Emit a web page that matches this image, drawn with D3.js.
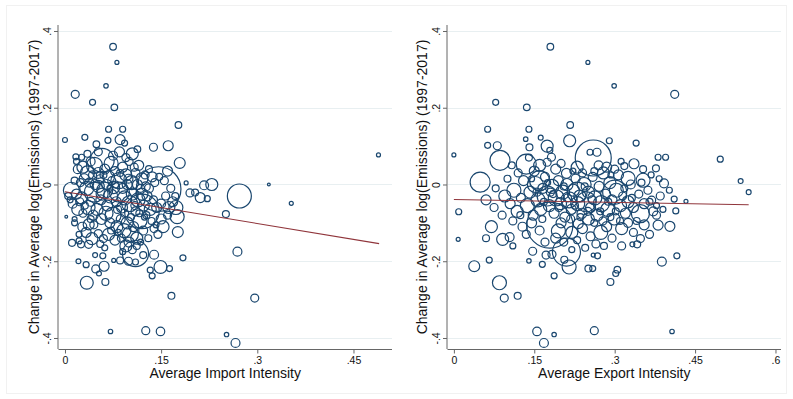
<!DOCTYPE html>
<html>
<head>
<meta charset="utf-8">
<script src="https://cdn.jsdelivr.net/npm/d3@7"></script>
<style>
  html, body { margin: 0; padding: 0; background: #fff; }
  svg { display: block; font-family: "Liberation Sans", Arial, Helvetica, sans-serif; }
</style>
</head>
<body>
<svg id="chart" width="793" height="399"></svg>
<script>
// ---------- DATA ----------
// [average import intensity, change in avg log(emissions), weight]
const importPoints = [
[0.075,0.359,11],[0.081,0.318,4],[0.016,0.235,16],[0.043,0.214,9],[0.064,0.257,5],[0.077,0.201,11],[0.177,0.155,11],[0.068,0.144,9],[0.090,0.144,9],[0.000,0.116,6],[0.031,0.123,9],[0.067,0.115,9],[0.086,0.117,25],[0.093,0.108,9],[0.113,0.092,11],[0.138,0.097,16],[0.161,0.101,25],[0.179,0.056,30],[0.489,0.077,4],[0.318,0.000,2],[0.272,-0.030,144],[0.229,0.000,36],[0.217,-0.002,20],[0.189,0.004,4],[0.049,0.105,11],[0.017,0.072,9],[0.026,0.071,9],[0.146,-0.012,500],[0.195,-0.022,16],[0.203,-0.021,12],[0.211,-0.034,25],[0.222,-0.037,9],[0.353,-0.049,4],
[0.251,-0.077,12],[0.269,-0.175,20],[0.296,-0.296,16],[0.166,-0.290,12],[0.184,-0.191,9],[0.149,-0.215,42],[0.163,-0.219,9],[0.139,-0.183,20],[0.133,-0.223,9],[0.136,-0.238,9],[0.126,-0.381,16],[0.149,-0.383,18],[0.071,-0.383,5],[0.252,-0.391,5],[0.266,-0.413,20],[0.034,-0.256,42],[0.063,-0.254,12],[0.053,-0.232,6],[0.048,-0.220,16],[0.061,-0.213,25],[0.033,-0.209,9],[0.021,-0.200,6],[0.047,-0.184,6],[0.059,-0.186,9],[0.076,-0.198,4],[0.086,-0.198,12],[0.099,-0.200,16],[0.110,-0.202,9],[0.110,-0.180,170],[0.122,-0.184,12],[0.176,-0.124,30],[0.175,-0.084,49],[0.153,-0.110,36],[0.139,-0.115,16],[0.127,-0.080,12],[0.002,-0.084,2],[0.015,-0.090,6],[0.011,-0.152,12],[0.025,-0.156,12],[0.037,-0.156,16],[0.022,-0.147,9],[0.037,-0.104,30],[0.052,-0.128,16],[0.060,-0.141,16],[0.042,-0.141,36],
[0.020,0.040,20],[0.028,0.045,36],[0.035,0.030,49],[0.030,0.015,25],[0.024,0.005,16],[0.040,0.060,20],[0.046,0.050,64],[0.052,0.030,30],[0.058,0.063,144],[0.062,0.040,25],[0.068,0.020,36],[0.072,0.055,49],[0.078,0.035,20],[0.084,0.010,64],[0.090,0.045,25],[0.095,0.025,36],[0.100,0.060,16],[0.104,0.005,49],[0.110,0.030,20],[0.115,0.050,25],[0.120,0.015,36],[0.126,-0.005,20],[0.131,0.040,12],[0.136,0.020,25],[0.010,-0.015,64],[0.018,-0.025,25],[0.026,-0.035,36],[0.034,-0.010,49],[0.040,-0.045,20],[0.046,-0.020,100],[0.052,-0.005,36],[0.056,-0.040,25],[0.062,-0.015,64],[0.066,-0.055,30],[0.071,-0.030,49],[0.076,-0.008,36],[0.080,-0.045,25],[0.085,-0.020,100],[0.089,-0.060,30],[0.093,-0.035,49],[0.097,0.000,25],[0.101,-0.050,64],[0.105,-0.025,36],[0.110,-0.070,20],[0.114,-0.040,49],[0.118,-0.010,16],[0.123,-0.055,30],[0.128,-0.030,25],[0.133,-0.065,36],[0.138,-0.040,16],[0.143,-0.060,25],[0.150,-0.050,20],[0.157,-0.030,16],[0.162,-0.060,36],[0.168,-0.045,25],[0.173,-0.060,49],[0.172,-0.030,12],[0.012,-0.050,20],[0.020,-0.065,36],[0.028,-0.075,16],[0.036,-0.060,49],[0.044,-0.080,25],[0.050,-0.065,36],[0.057,-0.090,30],[0.064,-0.075,49],[0.070,-0.100,25],[0.075,-0.080,64],[0.081,-0.110,36],[0.087,-0.090,20],[0.092,-0.120,49],[0.097,-0.100,36],[0.102,-0.130,64],[0.107,-0.110,25],[0.112,-0.140,36],[0.117,-0.095,49],[0.122,-0.120,20],[0.027,-0.110,20],[0.033,-0.125,25],[0.045,-0.105,16],[0.068,-0.130,36],[0.078,-0.145,25],[0.088,-0.140,16],[0.095,-0.160,36],[0.100,-0.150,25],[0.130,-0.140,12],[0.145,-0.130,16],[0.150,-0.090,25],[0.160,-0.080,16],[0.055,0.015,16],[0.065,0.000,25],[0.075,0.075,20],[0.085,0.085,25],[0.095,0.070,16],[0.105,0.080,36],[0.052,0.085,16],[0.035,0.080,12],[0.018,0.060,9],[0.043,0.025,16],[0.047,0.000,25],[0.058,-0.025,36],[0.073,0.010,16],[0.082,-0.065,16],[0.090,-0.010,25],[0.099,0.015,20],[0.108,0.045,16],[0.113,0.000,25],[0.120,-0.025,36],[0.125,0.025,16],[0.131,-0.010,20],[0.140,0.005,16],[0.147,0.020,12],[0.155,0.010,16],[0.160,0.035,25],[0.165,-0.010,16],[0.005,-0.030,12],[0.008,-0.040,9],[0.015,0.010,12],[0.023,-0.045,16],[0.031,-0.055,12],[0.038,0.005,20],[0.060,0.025,12],[0.070,-0.010,9],[0.079,0.000,12],[0.086,0.030,12],[0.093,-0.075,16],[0.103,-0.085,12],[0.109,-0.055,16],[0.116,-0.075,12],[0.124,-0.085,9],[0.135,-0.095,12],[0.142,-0.105,9],[0.022,-0.130,9],[0.055,-0.155,12],[0.062,-0.165,9],[0.072,-0.120,12],[0.083,-0.125,9],[0.105,-0.170,16],[0.112,-0.160,12],[0.118,-0.150,9],[0.015,-0.100,9],[0.040,-0.090,12],[0.090,-0.175,9],[0.120,-0.070,300]
];

// [average export intensity, change in avg log(emissions), weight]
const exportPoints = [
[0.180,0.359,11],[0.250,0.318,4],[0.299,0.257,5],[0.412,0.235,16],[0.078,0.214,9],[0.136,0.201,11],[0.217,0.155,11],[0.063,0.144,9],[0.140,0.144,9],[0.000,0.077,4],[0.497,0.066,9],[0.535,0.009,6],[0.550,-0.020,6],[0.049,0.006,100],[0.063,0.102,9],[0.081,0.101,16],[0.086,0.063,100],[0.134,0.118,5],[0.141,0.097,12],[0.162,0.122,6],[0.174,0.100,36],[0.179,0.089,9],[0.182,0.071,16],[0.174,0.058,16],[0.216,0.114,36],[0.260,0.069,324],[0.254,0.084,9],[0.267,0.084,16],[0.290,0.114,9],[0.340,0.108,9],[0.381,0.071,9],[0.395,0.071,9],[0.377,0.042,12],[0.336,0.054,25],[0.318,0.048,12],[0.325,0.016,49],[0.353,0.011,49],[0.392,0.003,20],[0.402,-0.015,9],[0.411,-0.038,9],[0.433,-0.044,4],[0.135,0.053,100],[0.210,0.029,25],[0.108,0.050,12],
[0.009,-0.071,9],[0.008,-0.143,4],[0.038,-0.213,30],[0.066,-0.197,9],[0.085,-0.256,49],[0.094,-0.296,16],[0.119,-0.290,12],[0.140,-0.199,5],[0.147,-0.174,16],[0.165,-0.208,9],[0.172,-0.184,16],[0.183,-0.182,16],[0.187,-0.238,9],[0.206,-0.196,12],[0.215,-0.215,49],[0.210,-0.176,196],[0.251,-0.219,12],[0.259,-0.219,9],[0.260,-0.184,4],[0.268,-0.186,9],[0.305,-0.222,11],[0.302,-0.232,9],[0.292,-0.254,12],[0.388,-0.201,20],[0.416,-0.186,9],[0.155,-0.383,18],[0.168,-0.413,20],[0.187,-0.391,5],[0.262,-0.381,16],[0.407,-0.383,5],[0.313,-0.160,16],[0.333,-0.156,6],[0.342,-0.156,12],[0.348,-0.141,16],[0.070,-0.110,36],[0.091,-0.143,36],[0.104,-0.137,20],[0.124,-0.080,12],[0.179,-0.106,530],[0.195,-0.121,49],[0.232,-0.102,25],[0.251,-0.090,36],[0.274,-0.125,49],[0.313,-0.115,36],[0.348,-0.076,81],[0.378,-0.080,16],[0.381,-0.106,25],[0.403,-0.109,25],[0.414,-0.069,9],[0.369,-0.041,16],[0.341,-0.095,12],
[0.060,-0.040,25],[0.075,-0.060,16],[0.095,-0.030,36],[0.105,-0.050,25],[0.112,-0.015,49],[0.118,-0.070,36],[0.125,-0.035,20],[0.130,0.010,25],[0.137,-0.055,49],[0.142,-0.020,36],[0.148,-0.080,25],[0.152,0.000,64],[0.157,-0.040,49],[0.162,-0.065,36],[0.166,-0.010,25],[0.170,0.020,20],[0.174,-0.030,100],[0.178,-0.055,36],[0.183,-0.005,49],[0.187,-0.075,25],[0.191,-0.035,64],[0.195,0.010,25],[0.199,-0.050,36],[0.203,-0.020,49],[0.207,-0.085,25],[0.211,0.000,36],[0.215,-0.040,64],[0.219,-0.065,25],[0.223,-0.015,36],[0.227,0.015,20],[0.231,-0.050,49],[0.235,-0.030,36],[0.239,-0.075,25],[0.243,0.000,49],[0.247,-0.045,100],[0.251,-0.020,36],[0.255,-0.060,25],[0.259,0.020,20],[0.263,-0.035,49],[0.267,-0.080,36],[0.271,-0.005,25],[0.275,-0.050,64],[0.279,0.030,36],[0.283,-0.025,25],[0.287,-0.065,49],[0.291,0.005,36],[0.295,-0.040,25],[0.299,-0.090,36],[0.303,-0.015,49],[0.307,0.025,25],[0.311,-0.055,36],[0.315,-0.030,16],[0.320,-0.075,25],[0.325,-0.045,36],[0.330,0.000,20],[0.335,-0.060,25],[0.345,-0.025,16],[0.355,-0.050,25],[0.362,-0.015,16],[0.372,-0.070,20],[0.385,-0.030,16],[0.150,0.035,25],[0.160,0.050,36],[0.190,0.040,25],[0.200,0.055,16],[0.230,0.045,36],[0.240,0.030,16],[0.270,0.050,20],[0.285,0.045,25],[0.300,0.040,16],[0.145,-0.100,25],[0.160,-0.120,20],[0.200,-0.100,25],[0.220,-0.125,36],[0.240,-0.115,25],[0.255,-0.135,20],[0.285,-0.110,25],[0.295,-0.140,16],[0.325,-0.100,20],[0.335,-0.125,16],[0.355,-0.105,25],[0.365,-0.130,16],[0.128,-0.110,20],[0.110,-0.095,16],[0.135,-0.130,16],[0.170,-0.150,16],[0.190,-0.140,25],[0.205,-0.150,16],[0.230,-0.145,12],[0.265,-0.155,16],[0.280,-0.160,12],[0.120,0.030,16],[0.100,0.015,12],[0.090,-0.080,16],[0.078,-0.010,12],[0.140,0.070,12],[0.165,-0.090,12],[0.180,-0.020,16],[0.196,-0.060,16],[0.212,-0.035,16],[0.226,-0.055,12],[0.244,-0.005,12],[0.258,-0.040,16],[0.273,-0.070,12],[0.288,-0.045,12],[0.302,-0.070,12],[0.318,-0.010,12],[0.332,-0.035,12],[0.350,0.005,12],[0.365,-0.045,12],[0.378,-0.055,9],[0.390,-0.065,9],[0.155,-0.020,16],[0.168,-0.045,12],[0.185,-0.025,12],[0.205,-0.005,12],[0.218,-0.090,16],[0.236,-0.085,12],[0.250,-0.070,16],[0.262,-0.100,12],[0.278,-0.095,16],[0.292,-0.085,12],[0.310,-0.095,12],[0.145,0.015,9],[0.175,0.005,9],[0.222,0.035,9],[0.262,0.035,12],[0.293,0.025,9],[0.312,0.060,9],[0.353,0.040,12],[0.368,0.025,9],[0.383,0.015,9],[0.060,-0.140,12],[0.110,-0.160,9],[0.220,-0.170,9],[0.245,-0.165,12],[0.160,0.010,100],[0.300,-0.020,144],[0.230,-0.020,100]
];

// fitted line endpoints [x, fitted y]
const importFit = [[0.0, -0.019], [0.49, -0.154]];
const exportFit = [[0.0, -0.039], [0.55, -0.053]];

const yTicks = [-0.4, -0.2, 0, 0.2, 0.4];
const importTicks = [0, 0.15, 0.3, 0.45];
const exportTicks = [0, 0.15, 0.3, 0.45, 0.6];
const yTitle = "Change in Average log(Emissions) (1997-2017)";
const importTitle = "Average Import Intensity";
const exportTitle = "Average Export Intensity";

// ---------- DRAW ----------
const svg = d3.select("#chart");
const fmt = v => {
  if (v === 0) return "0";
  let s = String(+v.toFixed(2));
  return s.replace(/^(-?)0\./, "$1.");
};

svg.append("rect").attr("x", 6.5).attr("y", 5.5).attr("width", 780).attr("height", 388)
  .attr("fill", "none").attr("stroke", "#f1f1f1").attr("stroke-width", 1);

const rScale = d3.scaleSqrt().domain([0, 625]).range([0, 25]);
const navy = "#1a476f";
const maroon = "#90353b";

function panel(cfg) {
  const x = d3.scaleLinear().domain(cfg.xDomain).range([cfg.left, cfg.right]);
  const y = d3.scaleLinear().domain([-0.4287, 0.4156]).range([349, 25]);
  const g = svg.append("g");

  // gridlines
  g.append("g").selectAll("line").data(yTicks).join("line")
    .attr("x1", cfg.left).attr("x2", cfg.right)
    .attr("y1", d => Math.round(y(d)) + 0.5).attr("y2", d => Math.round(y(d)) + 0.5)
    .attr("stroke", "#e8eff1").attr("stroke-width", 1);

  // circles
  g.append("g").selectAll("circle").data(cfg.points).join("circle")
    .attr("cx", d => x(d[0])).attr("cy", d => y(d[1])).attr("r", d => rScale(d[2]))
    .attr("fill", "none").attr("stroke", navy).attr("stroke-width", 1.2);

  // fit line
  g.append("path").datum(cfg.fit)
    .attr("d", d3.line().x(d => x(d[0])).y(d => y(d[1])))
    .attr("stroke", maroon).attr("stroke-width", 1.1).attr("fill", "none");

  // x axis
  const xa = g.append("g").attr("transform", "translate(0,349.5)")
    .call(d3.axisBottom(x).tickValues(cfg.xTicks).tickFormat(fmt).tickSize(4).tickPadding(3));
  xa.select(".domain").attr("stroke", "#666").attr("d", `M${cfg.left},0H${cfg.right}`);
  xa.selectAll(".tick line").attr("stroke", "#666");
  xa.selectAll("text").attr("font-size", 10.5).attr("fill", "#111")
    .attr("font-family", "Liberation Sans, Arial, sans-serif");

  // y axis
  const ya = g.append("g").attr("transform", `translate(${cfg.left - 0.5},0)`)
    .call(d3.axisLeft(y).tickValues(yTicks).tickFormat(fmt).tickSize(4).tickPadding(0));
  ya.select(".domain").attr("stroke", "#666").attr("d", "M0,349H0V25");
  ya.selectAll(".tick line").attr("stroke", "#666");
  ya.selectAll(".tick text")
    .attr("x", null).attr("dy", null)
    .attr("text-anchor", "middle")
    .attr("transform", "translate(-11,0) rotate(-90)")
    .attr("dy", "0.35em")
    .attr("font-size", 10.5).attr("fill", "#111")
    .attr("font-family", "Liberation Sans, Arial, sans-serif");

  // titles
  g.append("text").attr("x", (cfg.left + cfg.right) / 2 + cfg.xTitleShift).attr("y", 378)
    .attr("text-anchor", "middle").attr("font-size", 14).attr("fill", "#111")
    .text(cfg.xTitle);
  g.append("text")
    .attr("transform", `translate(${cfg.yTitleX},${187}) rotate(-90)`)
    .attr("text-anchor", "middle").attr("dy", "0.35em").attr("font-size", 14).attr("fill", "#111")
    .text(yTitle);
}

panel({ points: importPoints, fit: importFit, xDomain: [-0.0101, 0.5101], left: 58.5, right: 392,
        xTicks: importTicks, xTitle: importTitle, xTitleShift: 0, yTitleX: 34 });
panel({ points: exportPoints, fit: exportFit, xDomain: [-0.0119, 0.6103], left: 447.5, right: 781,
        xTicks: exportTicks, xTitle: exportTitle, xTitleShift: 0, yTitleX: 422 });
</script>
</body>
</html>
